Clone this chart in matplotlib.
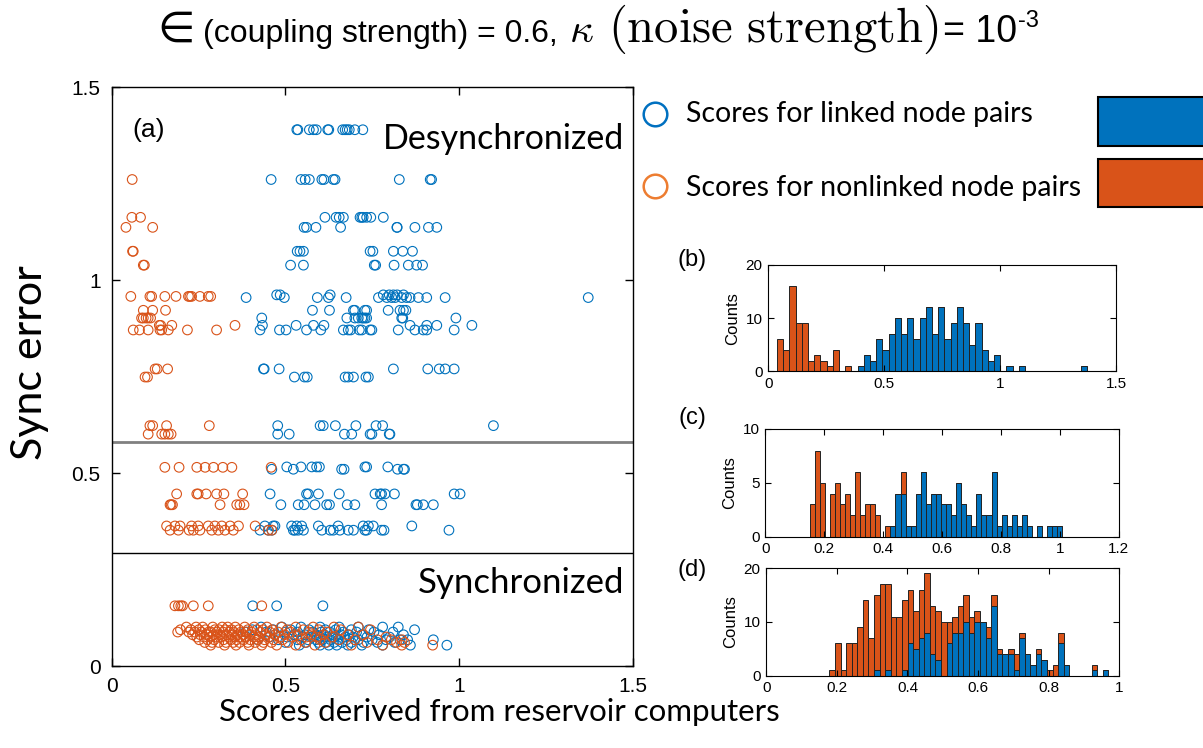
import matplotlib.pyplot as plt
import numpy as np
from matplotlib.patches import Rectangle
from matplotlib.lines import Line2D

plt.rcParams['font.family'] = ['Liberation Sans', 'DejaVu Sans']

BLUE = '#0072BD'
ORANGE = '#D95319'

# sync-error levels that split the three regimes
upper_thresh = 0.581
lower_thresh = 0.294

# ---- (a) scatter: sync error levels and the scores sitting on each level ----
linked_desync_err = [1.390, 1.261, 1.163, 1.137, 1.075, 1.039, 0.962, 0.955,
                     0.922, 0.902, 0.883, 0.871, 0.770, 0.749, 0.623, 0.601]
linked_desync_scores = [
    [0.533, 0.536, 0.569, 0.581, 0.589, 0.622, 0.625, 0.665, 0.672, 0.678, 0.684, 0.700, 0.723],
    [0.459, 0.545, 0.557, 0.569, 0.605, 0.611, 0.638, 0.643, 0.828, 0.917, 0.921],
    [0.614, 0.646, 0.655, 0.667, 0.715, 0.720, 0.724, 0.734, 0.746, 0.782],
    [0.554, 0.561, 0.588, 0.659, 0.821, 0.822, 0.873, 0.912, 0.936],
    [0.534, 0.542, 0.552, 0.744, 0.752, 0.811, 0.838, 0.866],
    [0.515, 0.552, 0.756, 0.760, 0.813, 0.854, 0.878, 0.895],
    [0.475, 0.485, 0.629, 0.782, 0.799, 0.811, 0.822, 0.840],
    [0.387, 0.497, 0.592, 0.624, 0.675, 0.768, 0.792, 0.806, 0.816, 0.835, 0.849, 0.859,
     0.883, 0.907, 0.960, 1.372],
    [0.578, 0.627, 0.696, 0.700, 0.729, 0.734, 0.796, 0.830, 0.840, 0.847],
    [0.432, 0.677, 0.700, 0.710, 0.720, 0.724, 0.729, 0.734, 0.835, 0.838, 0.991],
    [0.434, 0.531, 0.581, 0.611, 0.859, 0.907, 0.936, 1.037],
    [0.427, 0.483, 0.502, 0.561, 0.602, 0.667, 0.681, 0.688, 0.713, 0.720, 0.744, 0.749,
     0.825, 0.873, 0.897, 0.907, 0.986],
    [0.437, 0.439, 0.482, 0.811, 0.910, 0.943, 0.960, 0.986],
    [0.526, 0.555, 0.563, 0.672, 0.681, 0.696, 0.732, 0.739],
    [0.478, 0.600, 0.609, 0.644, 0.703, 0.761, 0.780, 1.099],
    [0.478, 0.511, 0.670, 0.691, 0.744, 0.749, 0.799, 0.801],
]
nonlinked_desync_err = [1.261, 1.163, 1.137, 1.075, 1.039, 0.958, 0.922, 0.902,
                        0.883, 0.871, 0.770, 0.749, 0.623, 0.601]
nonlinked_desync_scores = [
    [0.059],
    [0.058, 0.083],
    [0.041, 0.118],
    [0.060, 0.062],
    [0.091, 0.094],
    [0.055, 0.110, 0.115, 0.153, 0.185, 0.221, 0.225, 0.230, 0.254, 0.278, 0.285],
    [0.091, 0.118, 0.155],
    [0.086, 0.091, 0.099, 0.105, 0.112],
    [0.137, 0.141, 0.173, 0.355],
    [0.062, 0.080, 0.105, 0.139, 0.144, 0.163, 0.218, 0.302],
    [0.125, 0.131, 0.161],
    [0.096, 0.103],
    [0.110, 0.118, 0.158, 0.281],
    [0.105, 0.144, 0.153, 0.163, 0.171],
]

linked_mid_err = [0.516, 0.510, 0.446, 0.418, 0.363, 0.352]
linked_mid_scores = [
    [0.504, 0.545, 0.576, 0.590, 0.598, 0.729, 0.734, 0.795],
    [0.461, 0.523, 0.662, 0.669, 0.823, 0.840, 0.843],
    [0.456, 0.561, 0.566, 0.595, 0.655, 0.758, 0.773, 0.777, 0.787, 0.814, 0.986, 1.003],
    [0.487, 0.537, 0.554, 0.585, 0.619, 0.627, 0.678, 0.700, 0.777, 0.876, 0.880, 0.897, 0.926],
    [0.441, 0.465, 0.470, 0.518, 0.533, 0.547, 0.595, 0.652, 0.724, 0.739, 0.753, 0.864],
    [0.427, 0.451, 0.461, 0.523, 0.528, 0.537, 0.552, 0.605, 0.629, 0.638, 0.657, 0.681,
     0.696, 0.729, 0.734, 0.777, 0.784, 0.971],
]
nonlinked_mid_err = [0.515, 0.446, 0.418, 0.363, 0.352]
nonlinked_mid_scores = [
    [0.153, 0.194, 0.245, 0.269, 0.293, 0.320, 0.346, 0.459],
    [0.187, 0.245, 0.249, 0.272, 0.302, 0.323, 0.377],
    [0.168, 0.171, 0.175, 0.312, 0.360, 0.369, 0.381],
    [0.158, 0.182, 0.197, 0.230, 0.249, 0.278, 0.297, 0.317, 0.341, 0.365, 0.413],
    [0.168, 0.192, 0.223, 0.235, 0.254, 0.288, 0.307, 0.326, 0.350, 0.451, 0.461],
]

linked_sync_err = [0.156, 0.101, 0.094, 0.088, 0.081, 0.075, 0.068, 0.061, 0.054]
linked_sync_scores = [
    [0.406, 0.475, 0.608],
    [0.43, 0.49, 0.545, 0.6, 0.655, 0.71, 0.78, 0.825],
    [0.405, 0.465, 0.515, 0.568, 0.615, 0.645, 0.69, 0.74, 0.872],
    [0.385, 0.445, 0.5, 0.535, 0.58, 0.603, 0.628, 0.667, 0.705, 0.755, 0.81],
    [0.47, 0.525, 0.557, 0.59, 0.612, 0.637, 0.66, 0.683, 0.72, 0.77, 0.84],
    [0.455, 0.505, 0.55, 0.575, 0.598, 0.62, 0.641, 0.672, 0.695, 0.735, 0.8],
    [0.42, 0.48, 0.535, 0.565, 0.588, 0.607, 0.63, 0.652, 0.676, 0.71, 0.75, 0.79, 0.83,
     0.852, 0.926],
    [0.5, 0.56, 0.595, 0.618, 0.64, 0.663, 0.69, 0.725, 0.765, 0.815],
    [0.54, 0.6, 0.625, 0.648, 0.68, 0.72, 0.78, 0.86, 0.965],
]
nonlinked_sync_err = [0.156, 0.101, 0.094, 0.088, 0.081, 0.075, 0.068, 0.061, 0.054]
nonlinked_sync_scores = [
    [0.182, 0.192, 0.199, 0.204, 0.235, 0.278, 0.432],
    [0.215, 0.243, 0.262, 0.291, 0.318, 0.334, 0.356, 0.383, 0.41, 0.447, 0.488, 0.53,
     0.58, 0.64, 0.71],
    [0.198, 0.228, 0.251, 0.27, 0.297, 0.309, 0.327, 0.345, 0.366, 0.392, 0.418, 0.436,
     0.462, 0.505, 0.552, 0.597, 0.66, 0.745],
    [0.19, 0.222, 0.239, 0.258, 0.279, 0.286, 0.303, 0.321, 0.339, 0.351, 0.372, 0.388,
     0.403, 0.428, 0.455, 0.479, 0.515, 0.568, 0.62],
    [0.233, 0.255, 0.274, 0.293, 0.312, 0.331, 0.348, 0.362, 0.378, 0.397, 0.415, 0.443,
     0.47, 0.498, 0.535, 0.575, 0.61, 0.68, 0.725],
    [0.245, 0.266, 0.283, 0.301, 0.316, 0.337, 0.355, 0.37, 0.386, 0.41, 0.425, 0.452,
     0.485, 0.52, 0.56, 0.59, 0.635, 0.79],
    [0.252, 0.276, 0.295, 0.322, 0.343, 0.36, 0.38, 0.399, 0.421, 0.44, 0.466, 0.492,
     0.545, 0.6, 0.655, 0.7, 0.765, 0.805, 0.836],
    [0.268, 0.289, 0.308, 0.329, 0.35, 0.368, 0.392, 0.413, 0.437, 0.46, 0.508, 0.557,
     0.615, 0.735, 0.82, 0.843],
    [0.285, 0.325, 0.358, 0.395, 0.432, 0.475, 0.53, 0.585, 0.69, 0.78, 0.835, 0.924],
]

# ---- (b)-(d) histograms: 50 bins over each regime's score range ----
hist_b_range = (0.038, 1.375)
hist_b_linked = [0] * 13 + [1, 3, 2, 6, 4, 7, 10, 7, 10, 6, 10, 12, 7, 12, 6, 9, 12, 9, 5, 9,
                            4, 2, 3, 0, 1, 0, 1] + [0] * 9 + [1]
hist_b_nonlinked = [6, 4, 16, 9, 9, 2, 3, 2, 1, 4, 0, 1] + [0] * 38

hist_c_range = (0.1504, 1.0086)
hist_c_linked = [0] * 16 + [1, 4, 4, 1, 1, 4, 6, 3, 4, 4, 3, 3, 2, 5, 3, 2, 1, 4, 2, 2, 6, 1,
                            2, 1, 2, 1, 2, 1, 0, 1, 0, 1, 1, 1]
hist_c_nonlinked = [3, 8, 5, 0, 4, 5, 3, 4, 2, 6, 2, 3, 3, 2, 0, 1, 0, 0, 2] + [0] * 31

hist_d_range = (0.1791, 0.9686)
hist_d_linked = [0] * 8 + [1, 0, 1, 0, 0, 1, 6, 5, 7, 8, 4, 3, 0, 6, 8, 8, 10, 8, 10, 10, 7,
                           13, 4, 4, 4, 1, 7, 4, 2, 4, 3, 0, 0, 6, 2, 0, 0, 0, 0, 1, 0, 1]
hist_d_nonlinked = [1, 6, 1, 6, 6, 9, 14, 7, 14, 17, 16, 11, 11, 13, 10, 7, 9, 11, 9, 9, 10,
                    4, 3, 5, 5, 3, 2, 0, 2, 2, 1, 0, 1, 3, 1, 0, 0, 1, 0, 1, 2, 2, 0, 0, 0,
                    0, 0, 1, 0, 0]


def flatten(levels, rows):
    xs, ys = [], []
    for lev, row in zip(levels, rows):
        xs += row
        ys += [lev] * len(row)
    return xs, ys


fig = plt.figure(figsize=(12.03, 7.48), dpi=100)
W, H = 1203.0, 748.0


def box(l, t, r, b):
    return [l / W, 1 - b / H, (r - l) / W, (b - t) / H]


def px(x, y):
    return x / W, 1 - y / H


calibri_like = 'Lato'

# ---------------- (a) ----------------
ax = fig.add_axes(box(111.7, 87.3, 632.7, 666))
mk = dict(s=48, facecolors='none', linewidths=0.8)
for lv, rows, col in [(linked_desync_err, linked_desync_scores, BLUE),
                      (nonlinked_desync_err, nonlinked_desync_scores, ORANGE),
                      (linked_mid_err, linked_mid_scores, BLUE),
                      (nonlinked_mid_err, nonlinked_mid_scores, ORANGE),
                      (linked_sync_err, linked_sync_scores, BLUE),
                      (nonlinked_sync_err, nonlinked_sync_scores, ORANGE)]:
    xs, ys = flatten(lv, rows)
    ax.scatter(xs, ys, edgecolors=col, **mk)

ax.axhline(upper_thresh, color='#808080', lw=2)
ax.axhline(lower_thresh, color='k', lw=1)
ax.set_xlim(0, 1.5)
ax.set_ylim(0, 1.5)
ax.set_xticks([0, 0.5, 1, 1.5])
ax.set_xticklabels(['0', '0.5', '1', '1.5'])
ax.set_yticks([0, 0.5, 1, 1.5])
ax.set_yticklabels(['0', '0.5', '1', '1.5'])
ax.tick_params(direction='in', top=True, right=True, length=6, width=1, labelsize=15, pad=8)
for sp in ax.spines.values():
    sp.set_linewidth(1)

ax.text(0.071, 0.927, '(a)', transform=ax.transAxes, fontsize=19, ha='center', va='center')
ax.text(0.983, 0.91, 'Desynchronized', transform=ax.transAxes, fontsize=24.5,
        family=calibri_like, ha='right', va='center')
ax.text(0.983, 0.144, 'Synchronized', transform=ax.transAxes, fontsize=25,
        family=calibri_like, ha='right', va='center')

xl = ax.set_xlabel('Scores derived from reservoir computers', fontsize=22.5, family=calibri_like)
ax.xaxis.set_label_coords(0.745, -0.08)
xl.set_va('center')
yl = ax.set_ylabel('Sync error', fontsize=31, family=calibri_like)
ax.yaxis.set_label_coords(-0.157, 0.524)
yl.set_va('center')

# ---------------- (b)-(d) ----------------
hist_specs = [
    ('(b)', box(768.2, 264.8, 1116, 371.5), hist_b_range, hist_b_linked, hist_b_nonlinked,
     (0, 1.5), [0, 0.5, 1, 1.5], ['0', '0.5', '1', '1.5'], (0, 20), [0, 10, 20], 260),
    ('(c)', box(765.2, 429, 1118.7, 536.7), hist_c_range, hist_c_linked, hist_c_nonlinked,
     (0, 1.2), [0, 0.2, 0.4, 0.6, 0.8, 1, 1.2], ['0', '0.2', '0.4', '0.6', '0.8', '1', '1.2'],
     (0, 10), [0, 5, 10], 418),
    ('(d)', box(766.2, 568, 1119.4, 675.8), hist_d_range, hist_d_linked, hist_d_nonlinked,
     (0, 1), [0, 0.2, 0.4, 0.6, 0.8, 1], ['0', '0.2', '0.4', '0.6', '0.8', '1'],
     (0, 20), [0, 10, 20], 570),
]
for tag, rect, rng, linked, nonlinked, xlim, xt, xtl, ylim, yt, tag_y in hist_specs:
    hx = fig.add_axes(rect)
    edges = np.linspace(rng[0], rng[1], len(linked) + 1)
    centers = (edges[:-1] + edges[1:]) / 2
    w = edges[1] - edges[0]
    linked = np.array(linked)
    nonlinked = np.array(nonlinked)
    hx.bar(centers, linked, width=w, color=BLUE, edgecolor='#222222', linewidth=0.7)
    hx.bar(centers, nonlinked, width=w, bottom=linked, color=ORANGE, edgecolor='#222222',
           linewidth=0.7)
    hx.set_xlim(*xlim)
    hx.set_ylim(*ylim)
    hx.set_xticks(xt)
    hx.set_xticklabels(xtl)
    hx.set_yticks(yt)
    hx.tick_params(direction='in', top=True, right=True, length=4, width=0.8,
                   labelsize=11, pad=4)
    hx.set_ylabel('Counts', fontsize=12, labelpad=4)
    fig.text(*px(692, tag_y), tag, fontsize=17, ha='center', va='center')

# ---------------- legend ----------------
fig.add_artist(Line2D([655 / W], [1 - 114 / H], marker='o', markersize=17, mfc='none',
                      mec='#0070C0', mew=1.8, transform=fig.transFigure))
fig.add_artist(Line2D([655 / W], [1 - 186 / H], marker='o', markersize=17, mfc='none',
                      mec='#ED7D31', mew=1.8, transform=fig.transFigure))
fig.text(*px(686, 114), 'Scores for linked node pairs', fontsize=20.5, family=calibri_like,
         va='center')
fig.text(*px(686, 188), 'Scores for nonlinked node pairs', fontsize=20.5, family=calibri_like,
         va='center')
fig.add_artist(Rectangle(px(1098, 146), 120 / W, 49 / H, facecolor=BLUE, edgecolor='k',
                         lw=1.5, transform=fig.transFigure))
fig.add_artist(Rectangle(px(1098, 207), 120 / W, 48 / H, facecolor=ORANGE, edgecolor='k',
                         lw=1.5, transform=fig.transFigure))

# ---------------- title, laid out piece by piece ----------------
base_y = 1 - 42 / H
pieces = [
    ('\u2208', dict(fontsize=31, family='DejaVu Sans'), 0, 8),
    ('(coupling strength) = 0.6,', dict(fontsize=23, family='Liberation Sans'), 0, 12),
    (r'$\kappa$', dict(fontsize=30, math_fontfamily='cm'), 0, 14),
    (r'$\mathrm{(noise\ strength)}$', dict(fontsize=35, math_fontfamily='cm'), 0, 4),
    ('= 10', dict(fontsize=27, family='Liberation Sans'), 0, 1),
    ('-3', dict(fontsize=17, family='Liberation Sans'), 15, 0),
]
renderer = fig.canvas.get_renderer()
title_texts = []
x = 0.0
for s, kw, rise, gap in pieces:
    t = fig.text(0, base_y + rise / H, s, va='baseline', **kw)
    wpx = t.get_window_extent(renderer).width
    title_texts.append((t, x))
    x += wpx + gap
start = 598 - x / 2
for t, off in title_texts:
    t.set_x((start + off) / W)

fig.savefig('out.png', dpi=100)
